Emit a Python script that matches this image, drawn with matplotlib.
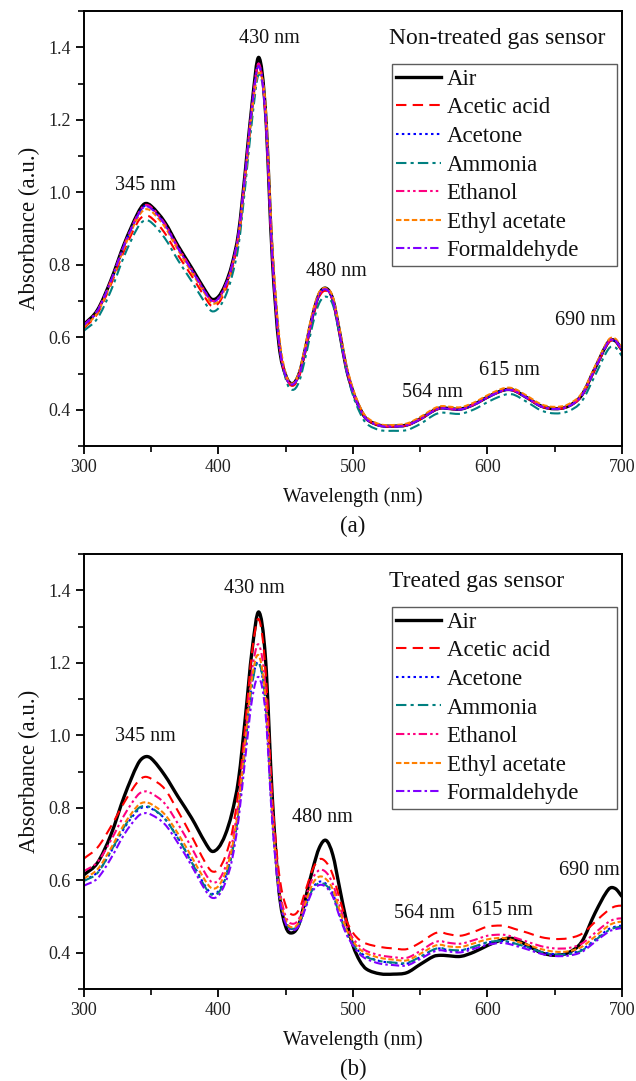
import matplotlib
matplotlib.use("Agg")
import numpy as np
import matplotlib.pyplot as plt
from matplotlib.lines import Line2D
from matplotlib.path import Path
from matplotlib.patches import PathPatch
from matplotlib.ticker import MultipleLocator

plt.rcParams['font.family'] = ['Liberation Serif', 'DejaVu Serif']

# wavelength grid (nm)
WL = [300, 310, 320, 330, 340, 345, 350, 360, 370, 380, 390, 395,
      400, 405, 410, 415, 420, 425, 430, 435, 440, 445, 450, 455,
      460, 465, 470, 475, 480, 485, 490, 495, 500, 505, 510,
      520, 530, 540, 550, 560, 565, 570, 580, 590, 600, 610, 615,
      620, 630, 640, 650, 660, 670, 680, 690, 695, 700]

GASES = ["Air", "Acetic acid", "Acetone", "Ammonia", "Ethanol",
         "Ethyl acetate", "Formaldehyde"]

# (a) non-treated sensor
A_AIR = [0.635, 0.675, 0.757, 0.858, 0.942, 0.968, 0.962, 0.918, 0.852, 0.792, 0.730, 0.705,
         0.712, 0.745, 0.800, 0.890, 1.060, 1.245, 1.372, 1.220, 0.820, 0.580, 0.495, 0.472,
         0.500, 0.575, 0.660, 0.720, 0.735, 0.705, 0.615, 0.515, 0.450, 0.405, 0.375,
         0.357, 0.355, 0.358, 0.375, 0.398, 0.405, 0.404, 0.402, 0.415, 0.435, 0.452, 0.456,
         0.453, 0.432, 0.410, 0.403, 0.410, 0.440, 0.515, 0.588, 0.590, 0.565]
A_ACETIC = [0.625, 0.665, 0.745, 0.840, 0.918, 0.935, 0.930, 0.888, 0.826, 0.770, 0.710, 0.686,
            0.694, 0.728, 0.785, 0.875, 1.045, 1.230, 1.352, 1.210, 0.825, 0.590, 0.492, 0.466,
            0.492, 0.566, 0.650, 0.712, 0.728, 0.700, 0.612, 0.515, 0.450, 0.405, 0.375,
            0.356, 0.354, 0.357, 0.374, 0.397, 0.404, 0.403, 0.401, 0.414, 0.434, 0.451, 0.455,
            0.452, 0.431, 0.409, 0.402, 0.409, 0.438, 0.512, 0.585, 0.588, 0.562]
A_ACETONE = [0.632, 0.672, 0.754, 0.854, 0.937, 0.962, 0.957, 0.912, 0.846, 0.786, 0.724, 0.699,
             0.706, 0.740, 0.796, 0.886, 1.055, 1.240, 1.355, 1.215, 0.825, 0.585, 0.492, 0.470,
             0.498, 0.573, 0.658, 0.718, 0.733, 0.703, 0.613, 0.514, 0.449, 0.404, 0.374,
             0.356, 0.354, 0.357, 0.374, 0.397, 0.404, 0.403, 0.401, 0.414, 0.434, 0.451, 0.455,
             0.452, 0.431, 0.409, 0.402, 0.409, 0.439, 0.514, 0.587, 0.589, 0.564]
A_AMMONIA = [0.618, 0.652, 0.728, 0.825, 0.903, 0.922, 0.917, 0.874, 0.812, 0.755, 0.695, 0.672,
             0.680, 0.712, 0.768, 0.855, 1.020, 1.200, 1.325, 1.220, 0.845, 0.600, 0.485, 0.455,
             0.478, 0.550, 0.635, 0.695, 0.712, 0.690, 0.608, 0.510, 0.440, 0.393, 0.362,
             0.344, 0.342, 0.344, 0.361, 0.385, 0.392, 0.391, 0.389, 0.401, 0.421, 0.438, 0.443,
             0.441, 0.420, 0.398, 0.390, 0.396, 0.423, 0.495, 0.568, 0.572, 0.548]
A_ETHANOL = [0.634, 0.674, 0.756, 0.856, 0.939, 0.964, 0.959, 0.914, 0.848, 0.788, 0.726, 0.701,
             0.708, 0.742, 0.797, 0.887, 1.057, 1.242, 1.355, 1.212, 0.826, 0.587, 0.493, 0.470,
             0.498, 0.573, 0.658, 0.718, 0.733, 0.703, 0.614, 0.515, 0.450, 0.405, 0.375,
             0.357, 0.355, 0.358, 0.375, 0.398, 0.405, 0.404, 0.402, 0.415, 0.435, 0.452, 0.456,
             0.453, 0.432, 0.410, 0.403, 0.410, 0.440, 0.515, 0.588, 0.590, 0.565]
A_ETHYL = [0.628, 0.668, 0.750, 0.848, 0.930, 0.952, 0.948, 0.905, 0.840, 0.780, 0.720, 0.694,
           0.700, 0.736, 0.792, 0.880, 1.045, 1.225, 1.330, 1.240, 0.860, 0.610, 0.500, 0.472,
           0.505, 0.585, 0.670, 0.725, 0.735, 0.712, 0.625, 0.525, 0.458, 0.410, 0.380,
           0.360, 0.358, 0.362, 0.380, 0.403, 0.410, 0.409, 0.407, 0.420, 0.440, 0.457, 0.461,
           0.458, 0.437, 0.415, 0.408, 0.415, 0.445, 0.520, 0.593, 0.596, 0.570]
A_FORMAL = [0.633, 0.673, 0.755, 0.855, 0.936, 0.960, 0.955, 0.911, 0.845, 0.786, 0.725, 0.700,
            0.707, 0.741, 0.797, 0.886, 1.055, 1.238, 1.348, 1.210, 0.826, 0.587, 0.493, 0.470,
            0.498, 0.573, 0.658, 0.718, 0.732, 0.702, 0.613, 0.514, 0.449, 0.404, 0.374,
            0.356, 0.354, 0.357, 0.374, 0.397, 0.404, 0.403, 0.401, 0.414, 0.434, 0.451, 0.455,
            0.452, 0.431, 0.409, 0.402, 0.409, 0.439, 0.514, 0.588, 0.591, 0.565]

# (b) treated sensor
B_AIR = [0.615, 0.648, 0.725, 0.832, 0.920, 0.940, 0.936, 0.890, 0.830, 0.772, 0.705, 0.680,
         0.690, 0.725, 0.785, 0.880, 1.050, 1.235, 1.340, 1.210, 0.830, 0.570, 0.472, 0.455,
         0.480, 0.555, 0.630, 0.690, 0.710, 0.670, 0.580, 0.490, 0.420, 0.378, 0.355,
         0.342, 0.341, 0.345, 0.368, 0.390, 0.393, 0.392, 0.390, 0.402, 0.420, 0.435, 0.440,
         0.438, 0.420, 0.400, 0.393, 0.400, 0.430, 0.510, 0.575, 0.577, 0.555]
B_ACETIC = [0.660, 0.690, 0.748, 0.815, 0.872, 0.885, 0.880, 0.852, 0.790, 0.722, 0.650, 0.625,
            0.630, 0.665, 0.730, 0.850, 1.030, 1.230, 1.320, 1.180, 0.830, 0.620, 0.530, 0.505,
            0.520, 0.575, 0.630, 0.658, 0.650, 0.615, 0.550, 0.490, 0.455, 0.435, 0.425,
            0.416, 0.412, 0.410, 0.428, 0.452, 0.457, 0.452, 0.447, 0.458, 0.472, 0.475, 0.472,
            0.466, 0.455, 0.443, 0.438, 0.440, 0.452, 0.485, 0.518, 0.528, 0.530]
B_ACETONE = [0.600, 0.622, 0.678, 0.744, 0.793, 0.802, 0.798, 0.770, 0.716, 0.652, 0.585, 0.563,
             0.570, 0.607, 0.676, 0.795, 0.975, 1.145, 1.200, 1.085, 0.770, 0.568, 0.484, 0.465,
             0.480, 0.532, 0.578, 0.596, 0.590, 0.563, 0.508, 0.458, 0.425, 0.402, 0.390,
             0.377, 0.372, 0.370, 0.388, 0.408, 0.412, 0.408, 0.406, 0.416, 0.428, 0.432, 0.430,
             0.425, 0.414, 0.402, 0.396, 0.397, 0.408, 0.436, 0.465, 0.472, 0.475]
B_AMMONIA = [0.598, 0.620, 0.680, 0.748, 0.797, 0.805, 0.800, 0.770, 0.715, 0.650, 0.582, 0.560,
             0.566, 0.603, 0.672, 0.790, 0.970, 1.140, 1.200, 1.090, 0.775, 0.570, 0.486, 0.466,
             0.480, 0.530, 0.575, 0.592, 0.586, 0.560, 0.505, 0.456, 0.423, 0.400, 0.388,
             0.377, 0.373, 0.372, 0.389, 0.409, 0.413, 0.409, 0.407, 0.417, 0.429, 0.433, 0.431,
             0.426, 0.415, 0.402, 0.395, 0.396, 0.406, 0.434, 0.462, 0.469, 0.472]
B_ETHANOL = [0.625, 0.650, 0.710, 0.780, 0.835, 0.845, 0.840, 0.812, 0.755, 0.690, 0.620, 0.595,
             0.600, 0.635, 0.700, 0.820, 1.000, 1.180, 1.250, 1.130, 0.800, 0.590, 0.500, 0.480,
             0.495, 0.555, 0.605, 0.628, 0.622, 0.590, 0.530, 0.475, 0.440, 0.418, 0.405,
             0.393, 0.388, 0.386, 0.405, 0.428, 0.432, 0.428, 0.425, 0.435, 0.447, 0.450, 0.448,
             0.442, 0.430, 0.418, 0.412, 0.413, 0.425, 0.455, 0.485, 0.493, 0.495]
B_ETHYL = [0.605, 0.630, 0.688, 0.755, 0.806, 0.815, 0.810, 0.782, 0.728, 0.665, 0.600, 0.578,
           0.584, 0.620, 0.688, 0.805, 0.985, 1.160, 1.220, 1.100, 0.780, 0.575, 0.490, 0.470,
           0.485, 0.540, 0.590, 0.610, 0.603, 0.575, 0.518, 0.466, 0.432, 0.410, 0.398,
           0.386, 0.381, 0.379, 0.397, 0.418, 0.422, 0.418, 0.416, 0.426, 0.437, 0.441, 0.439,
           0.433, 0.422, 0.410, 0.403, 0.404, 0.416, 0.445, 0.475, 0.483, 0.486]
B_FORMAL = [0.585, 0.605, 0.660, 0.727, 0.776, 0.785, 0.781, 0.755, 0.702, 0.640, 0.574, 0.552,
            0.558, 0.592, 0.655, 0.770, 0.940, 1.100, 1.160, 1.060, 0.760, 0.562, 0.480, 0.462,
            0.476, 0.526, 0.570, 0.587, 0.581, 0.555, 0.500, 0.452, 0.420, 0.396, 0.383,
            0.370, 0.366, 0.365, 0.383, 0.403, 0.407, 0.404, 0.401, 0.411, 0.422, 0.427, 0.425,
            0.420, 0.409, 0.397, 0.391, 0.392, 0.402, 0.430, 0.458, 0.465, 0.468]

PEAKS = ["345 nm", "430 nm", "480 nm", "564 nm", "615 nm", "690 nm"]
A_PEAK_POS = [(345.5, 1.018), (437.6, 1.423), (487.9, 0.782),
              (558.8, 0.449), (616.4, 0.509), (672.7, 0.645)]
B_PEAK_POS = [(346.0, 0.997), (426.7, 1.405), (477.6, 0.773),
              (553.3, 0.507), (610.9, 0.516), (675.5, 0.627)]

STYLES = [
  dict(color='black', lw=2.4, ls='-'),
  dict(color='#FF0000', lw=1.5, ls=(0, (5, 3))),
  dict(color='#0000FF', lw=1.5, ls=(0, (1.2, 1.6))),
  dict(color='#008080', lw=1.5, ls=(0, (5, 2, 1.5, 2))),
  dict(color='#FF0080', lw=1.5, ls=(0, (4, 1.5, 1.2, 1.5, 1.2, 1.5))),
  dict(color='#FF8000', lw=1.5, ls=(0, (2.6, 1.2))),
  dict(color='#8000FF', lw=1.5, ls=(0, (4, 1.5, 1.2, 1.5))),
]

def spline_path(x, y):
  # cubic Bezier through the measured points (spline-connected line)
  x = np.asarray(x, float)
  y = np.asarray(y, float)
  m = np.empty_like(y)
  m[1:-1] = (y[2:] - y[:-2]) / (x[2:] - x[:-2])
  m[0] = (y[1] - y[0]) / (x[1] - x[0])
  m[-1] = (y[-1] - y[-2]) / (x[-1] - x[-2])
  verts = [(x[0], y[0])]
  codes = [Path.MOVETO]
  for i in range(len(x) - 1):
    d = (x[i + 1] - x[i]) / 3
    verts += [(x[i] + d, y[i] + m[i] * d), (x[i + 1] - d, y[i + 1] - m[i + 1] * d), (x[i + 1], y[i + 1])]
    codes += [Path.CURVE4] * 3
  return Path(verts, codes)

def panel(ax, series, title, peak_pos, tag):
  for ys, st in zip(series, STYLES):
    ax.add_patch(PathPatch(spline_path(WL, ys), fill=False, edgecolor=st['color'],
                           lw=st['lw'], ls=st['ls'], capstyle='butt', joinstyle='round'))

  for txt, (x, y) in zip(PEAKS, peak_pos):
    ax.text(x, y, txt, ha='center', va='center', fontsize=14.5, color='#111')

  ax.text(527.0, 1.425, title, ha='left', va='center', fontsize=17, color='#111')

  handles = [Line2D([], [], color=st['color'], lw=st['lw'], ls=st['ls']) for st in STYLES]
  leg = ax.legend(handles, GASES, loc='upper left', bbox_to_anchor=(0.572, 0.878, 0.419, 0.0),
                  mode='expand', fontsize=16.5, frameon=True, fancybox=False,
                  handlelength=1.95, handletextpad=0.25, labelspacing=0.33,
                  borderpad=0.2, borderaxespad=0.0)
  leg.get_frame().set_edgecolor('#333')
  leg.get_frame().set_linewidth(1.0)
  for t in leg.get_texts():
    t.set_color('#111')

  ax.set_xlim(300, 700)
  ax.set_ylim(0.3, 1.5)
  ax.xaxis.set_major_locator(MultipleLocator(100))
  ax.xaxis.set_minor_locator(MultipleLocator(50))
  ax.yaxis.set_minor_locator(MultipleLocator(0.1))
  ax.set_yticks([0.4, 0.6, 0.8, 1.0, 1.2, 1.4])
  ax.tick_params(which='major', direction='out', length=6, width=1.3, labelsize=13,
                 labelcolor='#222', pad=3.5)
  ax.tick_params(which='minor', direction='out', length=4, width=1.2)
  for s in ax.spines.values():
    s.set_linewidth(1.4)

  ax.set_xlabel("Wavelength (nm)", fontsize=14.5, labelpad=8, color='#111')
  ax.set_ylabel("Absorbance (a.u.)", fontsize=16.5, labelpad=6, color='#111')
  ax.text(0.5, -0.185, tag, transform=ax.transAxes, ha='center', va='center',
          fontsize=16.5, color='#111')

fig = plt.figure(figsize=(6.36, 10.81), dpi=100)
ax1 = fig.add_axes([0.132, 0.5874, 0.846, 0.4024])
ax2 = fig.add_axes([0.132, 0.0851, 0.846, 0.4024])

panel(ax1, [A_AIR, A_ACETIC, A_ACETONE, A_AMMONIA, A_ETHANOL, A_ETHYL, A_FORMAL],
      "Non-treated gas sensor", A_PEAK_POS, "(a)")
panel(ax2, [B_AIR, B_ACETIC, B_ACETONE, B_AMMONIA, B_ETHANOL, B_ETHYL, B_FORMAL],
      "Treated gas sensor", B_PEAK_POS, "(b)")

fig.savefig("out.png", dpi=100)
